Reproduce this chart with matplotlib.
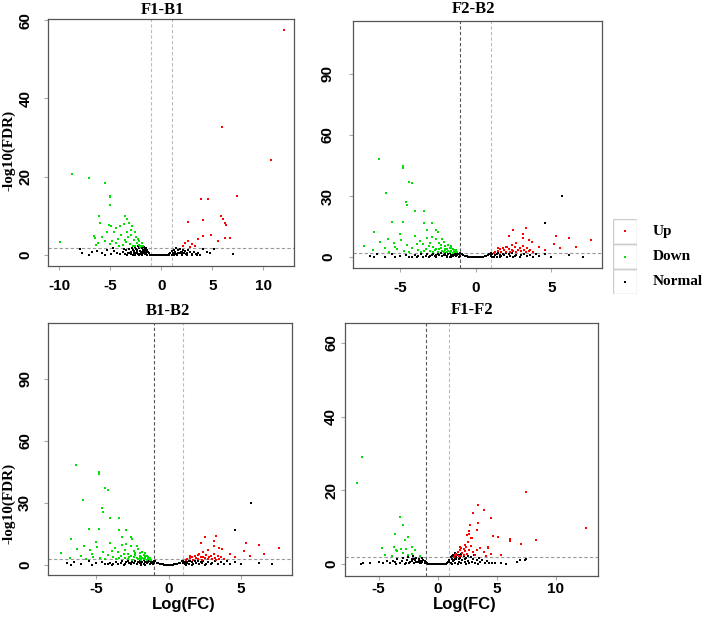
import matplotlib.pyplot as plt
from matplotlib.patches import Rectangle

# ---- data: (logFC, -log10(FDR)) ----
f1b1_up = [(12.0, 57.6), (5.95, 32.7), (10.75, 24.4), (7.4, 15.0), (3.9, 14.3), (4.6, 14.4),
           (5.85, 9.9), (6.0, 9.1), (6.25, 8.3), (6.3, 7.7), (4.05, 9.0), (2.65, 8.5),
           (4.9, 5.2), (5.6, 3.5), (6.2, 4.3), (6.7, 4.3), (4.05, 4.8), (3.6, 4.0),
           (2.65, 3.7), (2.3, 3.2), (3.0, 2.8), (2.8, 2.1), (3.3, 2.4), (2.1, 2.3)]
f1b1_down = [(-8.7, 20.6), (-7.1, 19.8), (-5.5, 18.4), (-5.0, 15.2), (-5.0, 14.8), (-5.0, 12.8),
             (-6.1, 10.0), (-6.0, 8.2), (-6.6, 4.8), (-6.5, 4.3), (-9.9, 3.3), (-3.6, 9.9),
             (-3.4, 9.2), (-5.1, 7.7), (-4.9, 7.4), (-4.4, 6.9), (-4.0, 7.5), (-3.7, 8.0),
             (-3.2, 8.2), (-2.9, 7.5), (-3.0, 6.4), (-2.6, 5.8), (-3.4, 6.0), (-4.6, 5.8),
             (-5.3, 6.0), (-3.9, 5.2), (-3.3, 4.7), (-2.5, 4.6), (-2.3, 4.0), (-2.7, 3.8),
             (-3.6, 3.9), (-4.2, 4.2), (-4.8, 3.7), (-5.5, 3.5), (-6.2, 3.0), (-5.0, 2.7),
             (-4.4, 3.0), (-3.8, 2.6), (-3.1, 2.9), (-2.8, 2.4), (-2.2, 2.6), (-2.0, 2.3),
             (-1.8, 2.2), (-2.4, 3.1), (-3.5, 3.3), (-4.1, 2.4), (-1.9, 3.2), (-2.1, 2.0),
             (-6.4, 2.5), (-5.8, 4.5), (-2.6, 2.2), (-3.0, 5.2), (-2.2, 3.5)]
f1b1_normal = [(-8.0, 1.5), (-7.8, 0.4), (-7.1, 0.1), (-6.8, 0.7), (-6.3, 1.0), (-5.8, 0.6),
               (-5.5, 0.0), (-5.3, 1.3), (-4.9, 0.3), (-4.7, 1.8), (-4.6, 1.1), (-4.3, 0.6),
               (-4.0, 0.3), (-3.8, 0.8), (-3.7, 1.5), (-3.6, 0.2), (-3.5, 1.2), (-3.4, 0.0),
               (-3.3, 0.5), (-3.2, 1.6), (-3.0, 0.9), (-3.0, 0.2), (-2.9, 1.9), (-2.8, 1.3),
               (-2.8, 0.0), (-2.7, 0.6), (-2.6, 2.0), (-2.6, 0.1), (-2.5, 1.5), (-2.4, 0.8),
               (-2.3, 2.2), (-2.3, 0.3), (-2.2, 1.7), (-2.2, 0.0), (-2.1, 1.1), (-2.0, 2.3),
               (-2.0, 0.5), (-1.9, 1.8), (-1.9, 0.1), (-1.8, 1.3), (-1.8, 0.4), (-1.7, 2.0),
               (-1.7, 0.7), (-1.6, 1.6), (-1.6, 0.2), (-1.5, 1.1), (-1.5, 0.5), (-1.4, 1.4),
               (-1.4, 0.0), (-1.3, 0.8), (-1.2, 0.4), (-1.1, 0.1), (-2.5, 0.4), (-2.1, 0.2),
               (-1.9, 0.9), (-1.6, 1.0), (-2.4, 1.2), (-3.1, 0.6), (-2.7, 1.0), (-1.5, 1.9),
               (-1.0, 0.0), (-0.8, 0.0), (-0.6, 0.0), (-0.4, 0.0), (-0.2, 0.0), (0.0, 0.0),
               (0.2, 0.0), (0.4, 0.0), (0.6, 0.0), (0.8, 0.0), (1.0, 0.0), (1.2, 0.0),
               (1.5, 0.0), (2.0, 0.0), (2.5, 0.0), (3.0, 0.0), (3.5, 0.0), (3.8, 0.0),
               (0.8, 0.2), (0.9, 0.6), (1.0, 1.0), (1.1, 0.4), (1.2, 1.4), (1.3, 0.8),
               (1.4, 1.7), (1.5, 0.3), (1.6, 1.2), (1.7, 0.6), (1.8, 1.5), (1.9, 0.9),
               (2.0, 0.2), (2.1, 1.3), (2.2, 0.6), (2.3, 1.0), (2.5, 0.4), (2.6, 1.2),
               (2.8, 0.7), (3.0, 0.3), (3.2, 0.9), (3.4, 0.2), (3.6, 0.5), (1.3, 0.2),
               (1.6, 0.6), (2.0, 0.9), (2.4, 0.2), (1.9, 0.4), (4.1, 1.6),
               (4.5, 0.8), (4.8, 0.4), (5.2, 1.6), (7.0, 0.3)]

f2b2_up = [(2.5, 13.6), (3.3, 14.1), (3.1, 11.6), (3.1, 9.2), (2.2, 10.5), (3.7, 7.5),
           (3.5, 8.3), (3.1, 5.4), (2.1, 5.2), (1.8, 4.4), (1.45, 4.4), (2.4, 3.5),
           (2.9, 4.3), (3.4, 4.3), (3.6, 3.5), (4.2, 5.2), (4.6, 3.5), (5.3, 10.3),
           (5.2, 6.4), (5.6, 4.3), (6.2, 9.6), (6.6, 5.2), (7.6, 8.3), (1.3, 2.6),
           (1.5, 3.1), (1.7, 2.4), (1.9, 3.4), (2.0, 2.7), (2.2, 3.9), (2.3, 2.5),
           (2.5, 3.0), (2.6, 4.8), (2.7, 2.6), (2.8, 3.6), (3.0, 2.9), (3.2, 3.3),
           (3.3, 2.5), (3.5, 2.9), (1.6, 3.8), (2.4, 6.2), (2.7, 7.0), (3.8, 2.6),
           (1.2, 2.3), (2.0, 4.8)]
f2b2_down = [(-6.4, 48.2), (-4.8, 45.0), (-4.8, 43.8), (-4.4, 37.0), (-4.2, 36.2), (-5.9, 31.3),
             (-4.6, 27.3), (-4.5, 25.6), (-4.0, 22.5), (-3.4, 22.5), (-5.5, 17.4), (-4.8, 17.4),
             (-3.4, 17.0), (-2.9, 16.8), (-6.7, 12.3), (-5.0, 11.2), (-3.2, 13.5), (-2.6, 13.2),
             (-2.5, 12.5), (-6.3, 7.5), (-7.4, 5.5), (-5.8, 9.0), (-5.4, 7.0), (-4.9, 8.5),
             (-4.5, 6.0), (-4.0, 10.5), (-3.7, 8.0), (-3.5, 6.3), (-3.2, 9.5), (-3.0, 7.2),
             (-2.8, 5.0), (-2.6, 8.8), (-2.4, 6.8), (-2.3, 4.6), (-2.1, 7.5), (-2.0, 5.5),
             (-1.9, 3.8), (-1.8, 6.0), (-1.7, 4.5), (-1.6, 3.2), (-1.5, 4.0), (-1.4, 2.8),
             (-1.3, 3.3), (-1.2, 2.5), (-2.2, 3.0), (-2.7, 3.5), (-3.3, 4.2), (-3.8, 3.5),
             (-4.2, 4.5), (-4.7, 3.0), (-5.2, 3.8), (-5.7, 2.6), (-6.0, 4.4), (-3.6, 2.6),
             (-2.5, 2.5), (-1.9, 2.4), (-4.4, 2.6), (-3.0, 3.0), (-6.8, 3.3), (-5.3, 5.2),
             (-2.9, 10.0), (-1.6, 5.5), (-2.2, 9.0), (-2.4, 3.8), (-2.0, 4.2), (-1.8, 3.0),
             (-1.5, 2.3), (-1.7, 2.6), (-2.1, 2.7), (-2.6, 4.0), (-3.1, 5.3), (-3.9, 6.6),
             (-2.3, 5.8), (-1.4, 3.6), (-1.3, 2.4), (-2.8, 2.8), (-3.4, 3.1), (-2.0, 3.3),
             (-1.6, 4.4)]
f2b2_normal = [(-7.0, 0.8), (-6.7, 0.0), (-6.5, 1.5), (-6.0, 0.3), (-5.5, 1.8), (-5.3, 0.0),
               (-5.0, 0.6), (-4.6, 1.2), (-4.4, 0.2), (-4.2, 0.3), (-4.0, 1.0), (-3.9, 0.0),
               (-3.8, 0.5), (-3.6, 1.4), (-3.5, 0.2), (-3.3, 0.8), (-3.2, 1.6), (-3.1, 0.0),
               (-3.0, 0.4), (-2.9, 1.2), (-2.8, 1.8), (-2.7, 0.7), (-2.6, 0.1), (-2.6, 1.0),
               (-2.5, 1.5), (-2.4, 0.9), (-2.3, 2.0), (-2.2, 0.4), (-2.1, 1.3), (-2.0, 1.9),
               (-2.0, 0.9), (-1.9, 0.7), (-1.9, 0.0), (-1.8, 1.5), (-1.7, 2.1), (-1.7, 0.3),
               (-1.6, 1.1), (-1.6, 0.0), (-1.5, 1.8), (-1.5, 0.6), (-1.4, 2.2), (-1.4, 1.2),
               (-1.3, 0.4), (-1.3, 1.7), (-1.2, 2.0), (-1.2, 0.9), (-1.1, 1.4), (-1.1, 0.2),
               (-1.0, 0.7), (-1.0, 2.0), (-0.9, 1.6), (-0.8, 1.0), (-0.7, 0.6), (-0.6, 0.35),
               (-0.5, 0.2), (-0.4, 0.1), (-0.3, 0.05), (-0.2, 0.0), (-0.1, 0.0), (0.0, 0.0),
               (0.1, 0.0), (0.2, 0.0), (0.3, 0.05), (0.4, 0.1), (0.5, 0.2), (0.6, 0.35),
               (0.7, 0.6), (0.8, 1.0), (0.9, 1.6), (1.0, 2.0), (1.0, 0.6), (1.0, 1.1),
               (1.1, 1.4), (1.1, 0.2), (1.2, 1.9), (1.2, 0.0), (1.3, 0.9), (1.3, 1.3),
               (1.4, 1.6), (1.4, 0.3), (1.5, 2.0), (1.6, 1.1), (1.6, 0.0), (1.7, 0.5),
               (1.8, 1.7), (1.9, 0.9), (2.0, 2.0), (2.1, 0.3), (2.2, 1.4), (2.3, 0.8),
               (2.4, 1.9), (2.5, 0.0), (2.6, 0.5), (2.7, 1.3), (2.9, 0.2), (3.0, 1.0),
               (3.2, 1.7), (3.4, 0.5), (3.6, 1.1), (3.8, 0.3), (4.0, 1.7), (4.2, 0.5),
               (4.6, 1.4), (5.0, 0.3), (6.2, 1.0), (7.1, 0.2), (4.6, 17.0), (5.7, 30.0)]

# B1-B2 shows the same points as F2-B2
b1b2_up = f2b2_up
b1b2_down = f2b2_down
b1b2_normal = f2b2_normal

f1f2_up = [(7.5, 19.7), (3.45, 16.0), (3.9, 14.7), (3.0, 13.8), (4.5, 12.6), (3.4, 11.3),
           (2.75, 10.6), (3.3, 9.3), (2.7, 8.3), (2.9, 7.0), (4.7, 7.6), (5.1, 7.3),
           (4.3, 4.7), (6.1, 6.8), (6.1, 6.2), (7.1, 5.5), (8.35, 6.5), (12.6, 9.7),
           (5.4, 2.4), (1.9, 3.8), (1.6, 2.9), (2.0, 4.3), (2.4, 4.7), (2.6, 6.0),
           (2.3, 3.5), (2.7, 3.8), (3.0, 3.4), (3.3, 3.8), (3.6, 4.3), (3.9, 3.4),
           (4.3, 4.3), (1.8, 2.2), (2.2, 2.4), (1.5, 2.4), (1.4, 2.0), (2.85, 7.2),
           (2.5, 7.8), (2.7, 9.0), (2.3, 5.3), (1.9, 4.6), (4.1, 2.2), (4.5, 2.9),
           (2.1, 3.1), (2.5, 2.8), (1.7, 3.3), (3.2, 2.5), (2.0, 2.1), (1.6, 2.6),
           (2.2, 4.0), (2.8, 5.0)]
f1f2_down = [(-6.45, 29.2), (-6.85, 22.1), (-3.2, 12.9), (-2.9, 10.6), (-3.6, 8.3), (-2.5, 7.3),
             (-2.8, 6.5), (-4.7, 4.4), (-3.5, 3.8), (-3.4, 3.5), (-3.1, 4.0), (-2.7, 4.1),
             (-2.2, 4.6), (-1.9, 3.8), (-2.2, 2.7), (-4.5, 2.4), (-1.5, 2.2), (-3.7, 4.6),
             (-2.9, 3.0), (-3.9, 2.3), (-2.5, 2.6)]
f1f2_normal = [(-6.5, 0.0), (-6.3, 0.2), (-5.7, 0.2), (-5.0, 0.6), (-4.6, 0.3), (-4.3, 0.8),
               (-4.0, 0.2), (-3.8, 1.0), (-3.6, 0.5), (-3.5, 0.0), (-3.4, 1.3), (-3.2, 0.3),
               (-3.0, 0.9), (-2.9, 1.6), (-2.8, 0.0), (-2.7, 0.4), (-2.6, 1.2), (-2.5, 1.9),
               (-2.4, 0.2), (-2.3, 0.7), (-2.2, 1.5), (-2.1, 2.1), (-2.0, 0.3), (-1.9, 1.1),
               (-1.8, 1.8), (-1.7, 0.6), (-1.6, 1.4), (-1.5, 2.2), (-1.5, 0.2), (-1.4, 1.0),
               (-1.3, 1.7), (-1.3, 0.5), (-1.2, 1.2), (-1.1, 0.8), (-1.1, 0.2), (-1.0, 0.5),
               (-0.9, 0.3), (-0.8, 0.15), (-0.7, 0.1), (-0.6, 0.05), (-0.5, 0.0), (-0.4, 0.0),
               (-0.3, 0.0), (-0.2, 0.0), (-0.1, 0.0), (0.0, 0.0), (0.1, 0.0), (0.2, 0.0),
               (0.3, 0.0), (0.4, 0.0), (0.5, 0.0), (0.6, 0.05), (0.7, 0.1), (0.8, 0.2),
               (0.9, 0.5), (1.0, 1.2), (1.0, 0.6), (1.1, 2.0), (1.1, 0.3), (1.2, 1.5),
               (1.2, 0.0), (1.3, 2.6), (1.3, 0.8), (1.4, 1.9), (1.4, 1.1), (1.5, 0.4),
               (1.5, 3.0), (1.6, 1.3), (1.7, 2.4), (1.7, 0.0), (1.8, 0.7), (1.8, 1.4),
               (1.9, 1.8), (2.0, 2.9), (2.0, 0.3), (2.1, 1.2), (2.2, 2.2), (2.3, 0.6),
               (2.4, 1.6), (2.4, 0.0), (2.5, 2.7), (2.6, 1.0), (2.7, 0.2), (2.8, 1.9),
               (2.9, 0.7), (3.0, 1.4), (3.1, 2.4), (3.2, 0.4), (3.3, 1.1), (3.4, 0.0),
               (3.5, 1.8), (3.6, 0.6), (3.8, 1.2), (4.0, 0.3), (4.2, 0.9), (4.4, 0.2),
               (1.2, 2.2), (1.6, 2.0), (1.9, 2.5), (2.3, 1.3), (2.6, 2.1), (1.5, 1.6),
               (-1.8, 0.6), (-2.2, 0.9), (-1.6, 0.8), (-1.4, 0.3), (-2.0, 1.4),
               (4.6, 0.4), (4.9, 0.2), (5.4, 0.2), (5.8, 0.1), (6.7, 0.6), (7.0, 1.1),
               (7.4, 1.1), (7.5, 1.3)]

panel_names = ['F1-B1', 'F2-B2', 'B1-B2', 'F1-F2']
legend_labels = ['Up', 'Down', 'Normal']

RED = '#ff0000'
GREEN = '#00e000'
SERIF = 'Liberation Serif'
SANS = 'Liberation Sans'

W, H = 708, 617
fig = plt.figure(figsize=(W / 100, H / 100), dpi=100)


def box(l, t, r, b):
    return [l / W, (H - b) / H, (r - l) / W, (b - t) / H]


def volcano(ax, up, down, normal, xlim, ylim, xticks, yticks, fdr, left_col, xpad, ypad):
    ax.scatter([p[0] for p in normal], [p[1] for p in normal], s=3.5, c='black',
               marker='s', linewidths=0, zorder=3)
    for pts, col in ((down, GREEN), (up, RED)):
        ax.scatter([p[0] for p in pts], [p[1] for p in pts], s=2.5, c=col,
                   marker='s', linewidths=0, zorder=3)
    ax.axvline(-1, ls=(0, (3, 2)), color=left_col, lw=0.8, zorder=2)
    ax.axvline(1, ls=(0, (3, 2)), color='#bbbbbb', lw=0.8, zorder=2)
    ax.axhline(fdr, ls=(0, (3, 2)), color='#999999', lw=0.8, zorder=2)
    ax.set_xlim(*xlim)
    ax.set_ylim(*ylim)
    ax.set_xticks(xticks)
    ax.set_yticks(yticks)
    ax.set_xticklabels([str(v) for v in xticks], fontfamily=SANS, fontweight='bold', fontsize=11)
    ax.set_yticklabels([str(v) for v in yticks], fontfamily=SANS, fontweight='bold', fontsize=11,
                       rotation=90, va='center')
    ax.tick_params(length=3, color='#aaaaaa')
    ax.tick_params(axis='x', pad=xpad)
    ax.tick_params(axis='y', pad=ypad)
    for s in ax.spines.values():
        s.set_color('#555555')
        s.set_linewidth(0.9)


ax1 = fig.add_axes(box(48, 19, 294, 266))
volcano(ax1, f1b1_up, f1b1_down, f1b1_normal, (-11.1, 13.0), (-2.8, 60.3),
        [-10, -5, 0, 5, 10], [0, 20, 40, 60], 1.8, '#bbbbbb', 6.5, 8)
ax2 = fig.add_axes(box(353, 21, 602, 268))
volcano(ax2, f2b2_up, f2b2_down, f2b2_normal, (-8.1, 8.35), (-5.3, 116),
        [-5, 0, 5], [0, 30, 60, 90], 2.0, '#555555', 6.5, 10)
ax3 = fig.add_axes(box(48, 323, 292, 575))
volcano(ax3, b1b2_up, b1b2_down, b1b2_normal, (-8.3, 8.5), (-5.0, 117),
        [-5, 0, 5], [0, 30, 60, 90], 2.6, '#555555', 2, 8.5)
ax4 = fig.add_axes(box(345, 323, 598, 576))
volcano(ax4, f1f2_up, f1f2_down, f1f2_normal, (-7.85, 13.6), (-3.2, 65.4),
        [-5, 0, 5, 10], [0, 20, 40, 60], 2.0, '#555555', 1.5, 2)

# titles and axis labels
title_pos = [(163, 10), (474, 9), (168, 311), (472, 310)]
for name, (x, y) in zip(panel_names, title_pos):
    fig.text(x / W, 1 - y / H, name, ha='center', va='center',
             fontfamily=SERIF, fontweight='bold', fontsize=12)
for y in (150, 503):
    fig.text(9 / W, 1 - y / H, '-log10(FDR)', rotation=90, ha='center', va='center',
             fontfamily=SERIF, fontweight='bold', fontsize=11)
for x in (184, 465):
    fig.text(x / W, 1 - 604 / H, 'Log(FC)', ha='center', va='center',
             fontfamily=SANS, fontweight='bold', fontsize=12)

# legend drawn as stacked cells
lax = fig.add_axes(box(613, 219, 637, 294))
lax.set_xlim(0, 1)
lax.set_ylim(0, 3)
lax.axis('off')
for i, (lab, col) in enumerate(zip(legend_labels, [RED, GREEN, 'black'])):
    row = 2 - i
    lax.add_patch(Rectangle((0, row), 1, 1, fill=False, edgecolor='#cccccc', lw=1))
    lax.scatter([0.5], [row + 0.5], s=3, c=col, marker='s', linewidths=0)
    fig.text(653 / W, 1 - (231 + 25 * i) / H, lab, ha='left', va='center',
             fontfamily=SERIF, fontweight='bold', fontsize=11)

fig.savefig('out.png', dpi=100)
